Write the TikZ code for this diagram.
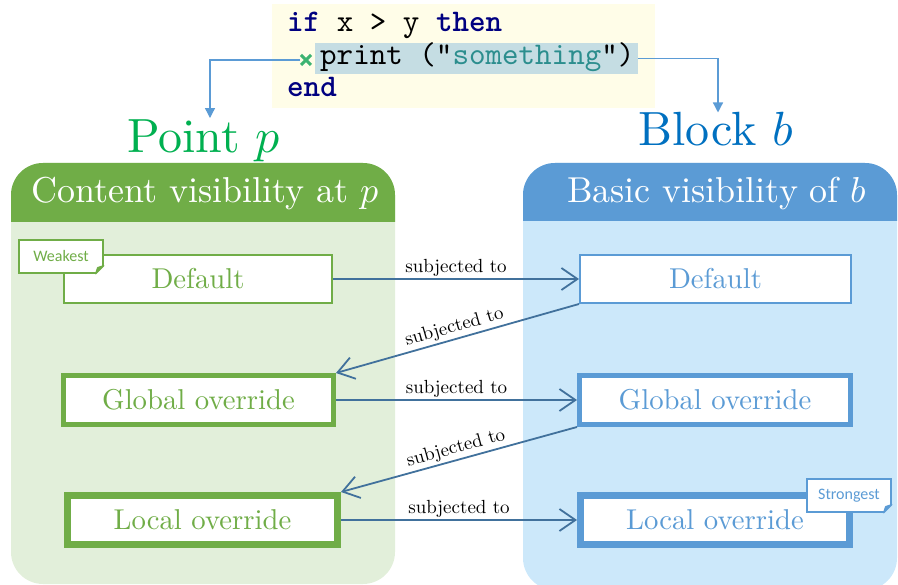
\documentclass[tikz,border=0pt]{standalone}
\usepackage{fontspec}
\usepackage{unicode-math}
\setmainfont{lmroman10-regular}[Extension=.otf, ItalicFont=lmroman10-italic, BoldFont=lmroman10-bold]
\setmathfont{Latin Modern Math}
\newfontfamily\codefont{lmmono10-regular}[Extension=.otf, BoldFont=lmmonolt10-bold]
\newfontfamily\tagfont{Carlito}
\usetikzlibrary{arrows.meta,calc}
\definecolor{cHgr}{HTML}{70AD47}
\definecolor{cLgr}{HTML}{E2EFDA}
\definecolor{cHbl}{HTML}{5B9BD5}
\definecolor{cLbl}{HTML}{CCE8FA}
\definecolor{cPt}{HTML}{00B050}
\definecolor{cBk}{HTML}{0070C0}
\definecolor{cConn}{HTML}{41719C}
\definecolor{cCode}{HTML}{FFFDE8}
\definecolor{cHl}{HTML}{C5DDE3}
\definecolor{cKw}{HTML}{000080}
\definecolor{cStr}{HTML}{2C8E8E}
\definecolor{cMk}{HTML}{3CB371}
\begin{document}
\begin{tikzpicture}[x=1pt,y=-1pt,
  boxG/.style={draw=cHgr, fill=white, text=cHgr, inner sep=0, font=\fontsize{28.7}{34}\selectfont},
  boxB/.style={draw=cHbl, fill=white, text=cHbl, inner sep=0, font=\fontsize{28.7}{34}\selectfont},
  hdr/.style={text=white, anchor=base, inner sep=0, font=\fontsize{36}{42}\selectfont},
  ttl/.style={anchor=base, inner sep=0, font=\fontsize{48}{56}\selectfont},
  conn/.style={draw=cConn, line width=1.8pt, -{Straight Barb[length=16pt,width=22pt]}},
  lbl/.style={font=\fontsize{19}{22}\selectfont, text=black, inner sep=2pt},
  codeline/.style={anchor=base west, inner sep=0, font=\fontsize{31.5}{36}\selectfont\codefont},
  tagbox/.style={fill=white, line width=1.4pt, inner sep=0, minimum width=84, minimum height=33, font=\fontsize{16}{18}\selectfont\tagfont},
  pointer/.style={draw=cHbl, line width=1.3pt, -{Triangle[length=10pt,width=10pt]}}
]
\useasboundingbox (0,0) rectangle (898,585);

% code box
\fill[cCode] (272,4) rectangle (655,108);
\node[fill=cHl, inner sep=0, minimum width=323, minimum height=31, anchor=west] (hl) at (315,58.5) {};
\node[codeline] (c1) at (287,32) {\textcolor{cKw}{\bfseries if} x > y \textcolor{cKw}{\bfseries then}};
\node[codeline] (c2) at (320,64.5) {print ("\textcolor{cStr}{something}")};
\node[codeline] (c3) at (287,97) {\textcolor{cKw}{\bfseries end}};
\coordinate (mk) at (306,60);
\draw[cMk, line width=3pt] ($(mk)+(-5,-5)$) -- ($(mk)+(5,5)$) ($(mk)+(-5,5)$) -- ($(mk)+(5,-5)$);

% titles
\node[ttl, text=cPt] (pt) at (204,153) {Point $p$};
\node[ttl, text=cBk] (bk) at (716,146) {Block $b$};
\draw[pointer] ($(mk)+(-6,0)$) -| ([xshift=6pt,yshift=2pt]pt.north);
\draw[pointer] (hl.east) -| ([xshift=2pt]bk.north);

% panels
\fill[cLgr, rounded corners=32] (11,163) rectangle (395,584);
\begin{scope}
  \clip (0,0) rectangle (898,222);
  \fill[cHgr, rounded corners=32] (11,163) rectangle (395,584);
\end{scope}
\fill[cLbl, rounded corners=32] (523,163) rectangle (897,590);
\begin{scope}
  \clip (0,0) rectangle (898,221);
  \fill[cHbl, rounded corners=32] (523,163) rectangle (897,590);
\end{scope}
\node[hdr] (hL) at (205,203) {Content visibility at $p$};
\node[hdr] (hR) at (717,203) {Basic visibility of $b$};

% boxes
\node[boxG, line width=2pt, minimum width=268, minimum height=48] (dL) at (198,279) {Default};
\node[boxG, line width=5pt, minimum width=270, minimum height=49] (gL) at (198.5,400) {Global override};
\node[boxG, line width=7pt, minimum width=270, minimum height=49] (lL) at (202.5,520) {Local override};
\node[boxB, line width=2pt, minimum width=271, minimum height=48] (dR) at (715.5,279) {Default};
\node[boxB, line width=5pt, minimum width=271, minimum height=49] (gR) at (715,400) {Global override};
\node[boxB, line width=7pt, minimum width=269, minimum height=49] (lR) at (715,520) {Local override};

% connectors
\draw[conn] (dL.east) -- node[lbl, above]{subjected to} (dR.west);
\draw[conn] (dR.south west) -- node[lbl, above, sloped]{subjected to} (gL.north east);
\draw[conn] (gL.east) -- node[lbl, above]{subjected to} (gR.west);
\draw[conn] (gR.south west) -- node[lbl, above, sloped]{subjected to} (lL.north east);
\draw[conn] (lL.east) -- node[lbl, above]{subjected to} (lR.west);

% tags
\node[tagbox, draw=cHgr, text=cHgr] (wk) at (61,256.5) {Weakest};
\fill[white] ($(wk.south east)+(1,-9)$) -- ($(wk.south east)+(1,1)$) -- ($(wk.south east)+(-9,1)$) -- cycle;
\draw[cHgr, line width=1.4pt, fill=cHgr, line join=round] ($(wk.south east)+(0,-8)$) -- ($(wk.south east)+(-8,0)$) -- ($(wk.south east)+(-6,-6)$) -- cycle;
\node[tagbox, draw=cHbl, text=cHbl] (sg) at (849,495.5) {Strongest};
\fill[cLbl] ($(sg.south east)+(1,-9)$) -- ($(sg.south east)+(1,1)$) -- ($(sg.south east)+(-9,1)$) -- cycle;
\draw[cHbl, line width=1.4pt, fill=cHbl, line join=round] ($(sg.south east)+(0,-8)$) -- ($(sg.south east)+(-8,0)$) -- ($(sg.south east)+(-6,-6)$) -- cycle;
\end{tikzpicture}
\end{document}
